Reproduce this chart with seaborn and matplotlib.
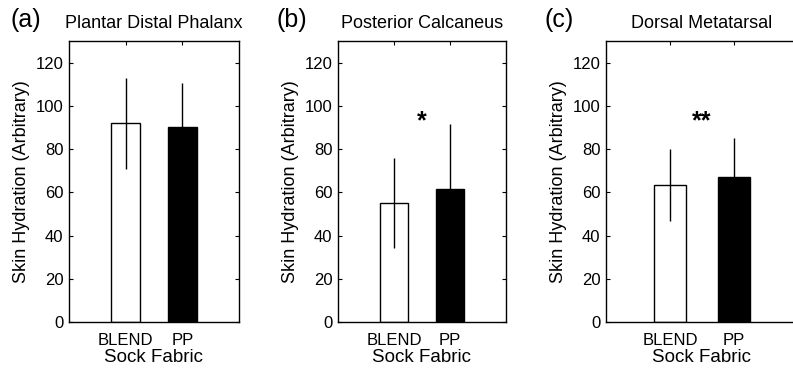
import matplotlib
matplotlib.use("Agg")
import matplotlib.pyplot as plt
import seaborn as sns
import numpy as np

sns.set_theme(style="white")
plt.rcParams['font.family'] = ['Liberation Sans', 'DejaVu Sans']

categories = ["BLEND", "PP"]
panel_letters = ["(a)", "(b)", "(c)"]
panel_titles = ["Plantar Distal Phalanx", "Posterior Calcaneus", "Dorsal Metatarsal"]
means_a = [92, 90]
sd_a = [21, 20.5]
means_b = [55, 61.5]
sd_b = [20.7, 30]
means_c = [63.5, 67]
sd_c = [16.7, 18]
marks = ["", "*", "**"]
mark_y = [0, 93, 93]
yticks = [0, 20, 40, 60, 80, 100, 120]

means = [means_a, means_b, means_c]
sds = [sd_a, sd_b, sd_c]

W, H = 793, 369
fig = plt.figure(figsize=(W / 100, H / 100), dpi=100)
boxes = [(69, 239), (338, 506), (606, 798)]
top, bot = 41, 322

for i, (l, r) in enumerate(boxes):
    ax = fig.add_axes([l / W, 1 - bot / H, (r - l) / W, (bot - top) / H])
    sns.barplot(x=categories, y=means[i], hue=categories, palette=["white", "black"],
                edgecolor="black", linewidth=1.0, width=0.5, errorbar=None,
                legend=False, ax=ax)
    ax.errorbar(x=np.arange(len(categories)), y=means[i], yerr=sds[i], fmt="none",
                ecolor="black", elinewidth=1.0, capsize=0)
    ax.set_xlim(-1, 2)
    ax.set_ylim(0, 130)
    ax.set_yticks(yticks)
    ax.set_yticklabels([str(t) for t in yticks])
    ax.tick_params(axis="both", direction="in", length=3, width=0.8, color="black",
                   labelsize=12, top=True, right=True, bottom=True, left=True,
                   labelcolor="black")
    ax.tick_params(axis="x", pad=8)
    ax.tick_params(axis="y", pad=4)
    for s in ax.spines.values():
        s.set_color("black")
        s.set_linewidth(1.0)
        s.set_visible(True)
    ax.set_xlabel("Sock Fabric", fontsize=13.5, labelpad=1, color="black")
    ax.set_ylabel("Skin Hydration (Arbitrary)", fontsize=13, labelpad=4, color="black")
    ax.set_title(panel_titles[i], fontsize=13, pad=9, color="black")
    if marks[i]:
        ax.text(0.5, mark_y[i], marks[i], ha="center", va="center", fontsize=18,
                fontweight="bold", color="black")

letter_x = [11, 277, 545]
for lx, t in zip(letter_x, panel_letters):
    fig.text(lx / W, 1 - 20 / H, t, fontsize=18, ha="left", va="center", color="black")

fig.savefig("out.png", dpi=100)
